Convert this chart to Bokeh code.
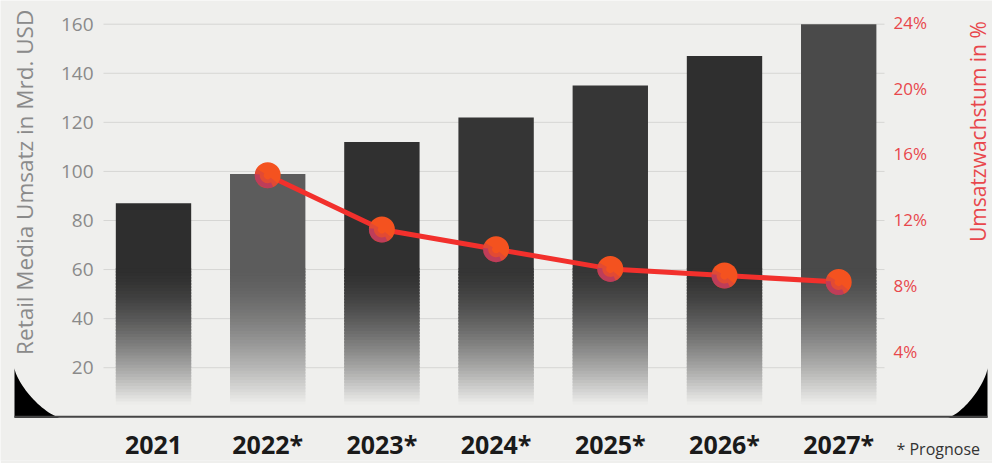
import math
import numpy as np
from bokeh.plotting import figure
from bokeh.models import (LinearAxis, Range1d, FixedTicker, PrintfTickFormatter,
                          Label, PolyAnnotation)
from bokeh.embed import file_html
from bokeh.resources import INLINE

# ---- data ----
years = ["2021", "2022*", "2023*", "2024*", "2025*", "2026*", "2027*"]
revenue = [87, 99, 112, 122, 135, 147, 160]          # Mrd. USD
growth_years = ["2022*", "2023*", "2024*", "2025*", "2026*", "2027*"]
growth = [14.7, 11.4, 10.2, 9.0, 8.6, 8.2]           # %
bar_colors = ["#2e2e2e", "#5c5c5c", "#303030", "#353535", "#363636", "#2f2f2f", "#4a4a4a"]
left_ticks = [20, 40, 60, 80, 100, 120, 140, 160]
right_ticks = [4, 8, 12, 16, 20, 24]

BG = "#efefed"
RED = "#e8474c"
FONT = "Open Sans"

W, H = 992, 463
# page-pixel layout: category centre X0 + k*DXP ; value 0 at Y0, PPU px per unit
X0, DXP = 153.0, 114.2
Y0, PPU, PPP = 419.0, 2.4696, 16.54

def dx(px):
    return (px - X0) / DXP
def dy(py):
    return (Y0 - py) / PPU
def dp(py):
    return (Y0 - py) / PPP

x = np.arange(len(years))
gx = np.array([years.index(g) for g in growth_years])

# the frame covers the whole canvas; axis labels are pulled in with negative standoffs
p = figure(width=W, height=H, output_backend="svg", toolbar_location=None,
           x_range=Range1d(dx(0), dx(W)), y_range=Range1d(dy(H), dy(0)),
           min_border=0, background_fill_color=BG, border_fill_color=BG,
           outline_line_color=None)
p.extra_y_ranges = {"pct": Range1d(dp(H), dp(0))}

# grid lines (limited to the plotting area)
p.segment(x0=dx(103), x1=dx(884), y0=left_ticks, y1=left_ticks,
          line_color="#d6d6d4", line_width=1)

# bars: solid upper part + fading lower part (opaque blended slices)
def hex2rgb(h):
    return np.array([int(h[i:i + 2], 16) for i in (1, 3, 5)], dtype=float)
def rgb2hex(c):
    return "#%02x%02x%02x" % tuple(int(round(v)) for v in c)

bg_rgb = hex2rgb(BG)
fade_lo, fade_hi, n = 5.0, 60.0, 44
rev = np.array(revenue, dtype=float)
p.vbar(x=x, bottom=fade_hi, top=rev, width=0.66, fill_color=bar_colors, line_color=None)
step = (fade_hi - fade_lo) / n
for i in range(n):
    b = fade_lo + step * i
    t = min(b + step * 1.6, fade_hi + 0.5)
    a = 1 - (1 - (i + 0.5) / n) ** 1.5
    cols = [rgb2hex(bg_rgb * (1 - a) + hex2rgb(c) * a) for c in bar_colors]
    p.vbar(x=x, bottom=b, top=np.minimum(t, rev), width=0.66,
           fill_color=cols, line_color=None)

# growth line with sphere-like markers
p.line(gx, growth, y_range_name="pct", line_color="#f2302c", line_width=5)
p.scatter(gx, growth, y_range_name="pct", size=26, fill_color="#f4521f", line_color=None)
p.annular_wedge(gx, growth, y_range_name="pct", inner_radius=4, outer_radius=13,
                inner_radius_units="screen", outer_radius_units="screen",
                start_angle=math.radians(150), end_angle=math.radians(320),
                fill_color="#a02c80", fill_alpha=0.22, line_color=None)
p.annular_wedge(gx, growth, y_range_name="pct", inner_radius=8, outer_radius=13,
                inner_radius_units="screen", outer_radius_units="screen",
                start_angle=math.radians(175), end_angle=math.radians(295),
                fill_color="#8a2a90", fill_alpha=0.4, line_color=None)

# axes
p.xaxis.ticker = FixedTicker(ticks=list(x))
p.xaxis.major_label_overrides = {int(i): y for i, y in zip(x, years)}
p.xaxis.major_label_text_font = FONT
p.xaxis.major_label_text_font_style = "bold"
p.xaxis.major_label_text_font_size = "25px"
p.xaxis.major_label_text_color = "#1a1a1a"
p.xaxis.major_label_standoff = -34
p.xaxis.axis_line_color = None
p.xaxis.major_tick_line_color = None
p.xaxis.minor_tick_line_color = None
p.xaxis.major_tick_out = 0
p.xaxis.minor_tick_out = 0

p.yaxis.ticker = FixedTicker(ticks=left_ticks)
p.yaxis.major_label_text_font = FONT
p.yaxis.major_label_text_font_size = "19px"
p.yaxis.major_label_text_color = "#8a8a8a"
p.yaxis.major_label_standoff = -93
p.yaxis.axis_line_color = None
p.yaxis.major_tick_line_color = None
p.yaxis.minor_tick_line_color = None
p.yaxis.major_tick_out = 0
p.yaxis.minor_tick_out = 0

ra = LinearAxis(y_range_name="pct", ticker=FixedTicker(ticks=right_ticks),
                formatter=PrintfTickFormatter(format="%d%%"))
ra.major_label_text_font = FONT
ra.major_label_text_font_size = "17px"
ra.major_label_text_color = RED
ra.major_label_standoff = -(W - 893)
ra.axis_line_color = None
ra.major_tick_line_color = None
ra.minor_tick_line_color = None
ra.major_tick_out = 0
ra.minor_tick_out = 0
p.add_layout(ra, "right")

p.xgrid.grid_line_color = None
p.ygrid.grid_line_color = None

# axis titles and note
p.add_layout(Label(x=dx(23.5), y=dy(183), text="Retail Media Umsatz in Mrd. USD",
                   angle=math.pi / 2, text_font=FONT, text_font_size="22.5px",
                   text_color="#8a8a8a", text_align="center", text_baseline="middle"))
p.add_layout(Label(x=dx(977), y=dy(132), text="Umsatzwachstum in %",
                   angle=math.pi / 2, text_font=FONT, text_font_size="21px",
                   text_color=RED, text_align="center", text_baseline="middle"))
p.add_layout(Label(x=dx(896), y=dy(451), text="* Prognose",
                   text_font=FONT, text_font_size="16px", text_color="#333333",
                   text_align="left", text_baseline="middle"))

# decorative frame: black corner fillets (concave) and baseline
th = np.linspace(0, np.pi / 2, 32)
k = 2 / 1.4
r_h, lw_, rw_ = 50, 46, 40
cu = np.cos(th) ** k
sv = np.sin(th) ** k
lx = [dx(14)] + [dx(14 + lw_ - lw_ * u) for u in cu] + [dx(14)]
ly = [dy(420)] + [dy(370 + r_h * v) for v in sv] + [dy(420)]
p.add_layout(PolyAnnotation(xs=lx, ys=ly, fill_color="#000000", fill_alpha=1, line_color=None))
rx = [dx(987)] + [dx(987 - rw_ + rw_ * u) for u in cu] + [dx(987)]
ry = [dy(420)] + [dy(370 + r_h * v) for v in sv] + [dy(420)]
p.add_layout(PolyAnnotation(xs=rx, ys=ry, fill_color="#000000", fill_alpha=1, line_color=None))
p.add_layout(PolyAnnotation(xs=[dx(14), dx(987), dx(987), dx(14)],
                            ys=[dy(418), dy(418), dy(420), dy(420)],
                            fill_color="#454545", fill_alpha=1, line_color=None))

open("out.html", "w").write(file_html(p, INLINE))
